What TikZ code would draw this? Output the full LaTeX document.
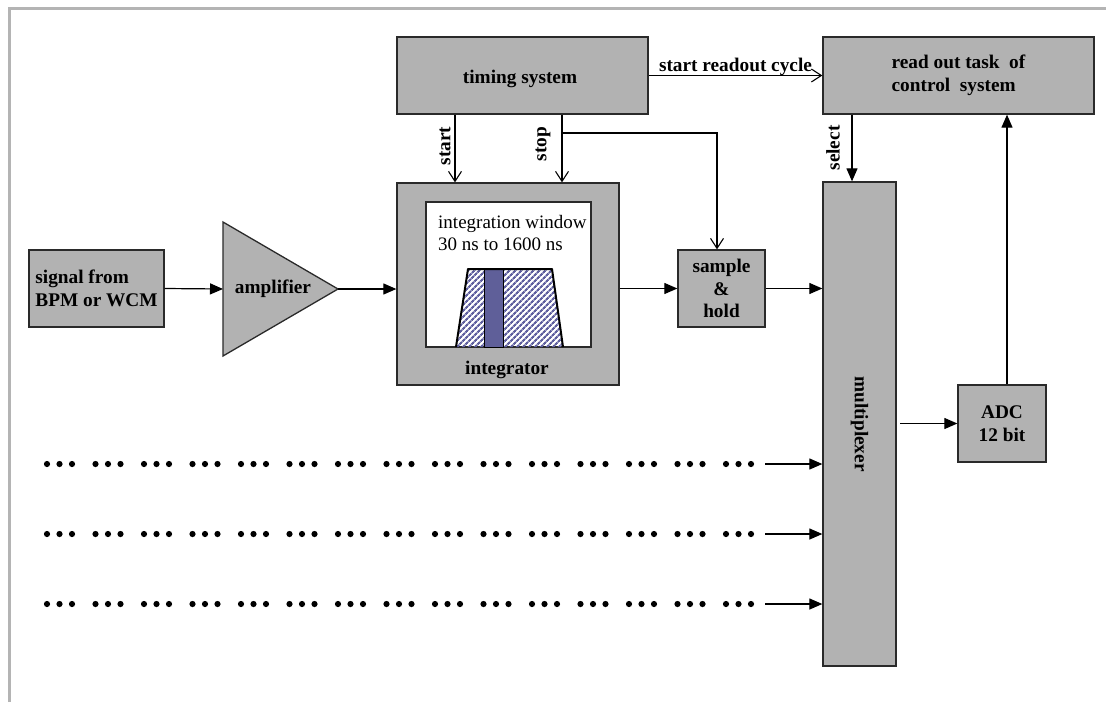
\documentclass[tikz,border=0pt]{standalone}
\usepackage{fontspec}
\setmainfont{Liberation Serif}
\usetikzlibrary{arrows.meta,patterns.meta}
\definecolor{boxgray}{HTML}{B2B2B2}
\definecolor{framegray}{HTML}{B4B4B4}
\definecolor{hatch}{HTML}{5F5F9F}
\definecolor{barblue}{HTML}{5F5F99}
\definecolor{edge}{HTML}{2A2A2A}
\begin{document}
\begin{tikzpicture}[x=1pt,y=-1pt,
  box/.style={draw=edge, line width=1.3pt, fill=boxgray, inner sep=0pt},
  lbl/.style={font=\fontsize{19.3}{22.5}\selectfont\bfseries, inner sep=0pt},
  reg/.style={font=\fontsize{19}{22}\selectfont, inner sep=0pt},
  fa/.style={line width=1.2pt, -{Triangle[length=13pt,width=11pt]}},
  oa/.style={line width=1.1pt, -{Straight Barb[length=10pt,width=13pt]}}
]
\useasboundingbox (0,0) rectangle (1106,702);
% frame
\draw[framegray, line width=3pt] (9,702) -- (9,8) -- (1106,8);

% boxes
\node[box, minimum width=251pt, minimum height=77pt] (timing) at (522.5,75.5) {};
\node[lbl] (timingtxt) at (520,79) {timing system};
\node[box, minimum width=271pt, minimum height=77pt] (readout) at (958.5,75.5) {};
\node[lbl, align=left] (readouttxt) at (readout.center) {read out task~ of\\control~ system};
\node[box, minimum width=135pt, minimum height=77pt] (sig) at (96.5,288.5) {};
\node[lbl, align=left] (sigtxt) at (sig.center) {signal from\\BPM or WCM};
\node[box, minimum width=87pt, minimum height=77pt] (sh) at (721.5,288.5) {};
\node[lbl, align=center] (shtxt) at (sh.center) {sample\\\&\\hold};
\node[box, minimum width=88pt, minimum height=77pt] (adc) at (1002,423.5) {};
\node[lbl, align=center] (adctxt) at (adc.center) {ADC\\12 bit};
\node[box, minimum width=73pt, minimum height=484pt] (mux) at (859.5,424) {};
\node[lbl, rotate=-90] (muxtxt) at (mux.center) {multiplexer};

% amplifier
\coordinate (ampin) at (223,289);
\coordinate (ampout) at (338,289);
\draw[box] (223,222) -- (ampout) -- (223,356) -- cycle;
\node[lbl] (amptxt) at (273,289) {amplifier};

% integrator
\node[box, minimum width=222pt, minimum height=202pt] (integ) at (508,284) {};
\node[draw=edge, line width=1.2pt, fill=white, minimum width=165pt, minimum height=145pt, inner sep=0pt] (inner) at (508.5,274.5) {};
\node[reg, align=left, anchor=west] (iwtxt) at (438,233) {integration window\\30 ns to 1600 ns};
\node[lbl] (integtxt) at (507,370) {integrator};
\path[pattern={Lines[angle=45,distance=4pt,line width=2.2pt]}, pattern color=hatch]
  (456,347) -- (468,269) -- (552,269) -- (563,347) -- cycle;
\fill[barblue] (484,269) rectangle (503,347);
\draw[line width=1pt] (484,269) rectangle (503,347);
\draw[line width=2pt, line join=round] (456,347) -- (468,269) -- (552,269) -- (563,347);

% signal path
\draw[fa] (sig.east) -- (ampin);
\draw[fa] (ampout) -- (ampout -| integ.west);
\draw[fa] (sh.west -| integ.east) -- (sh.west);
\draw[fa] (sh.east) -- (sh.east -| mux.west);

% timing
\draw[oa] (timing.east) -- (readout.west);
\node[lbl, anchor=base] (srctxt) at (735.5,71) {start readout cycle};
\coordinate (startx) at (455,0);
\coordinate (stopx) at (562,0);
\coordinate (stopbr) at (562,133);
\coordinate (stopv) at (717,0);
\draw[oa] (timing.south -| startx) -- (integ.north -| startx);
\draw[oa] (timing.south -| stopx) -- (integ.north -| stopx);
\draw[oa] (stopbr) -| (sh.north -| stopv);
\node[lbl, rotate=90] (starttxt) at (445,146) {start};
\node[lbl, rotate=90] (stoptxt) at (543,144) {stop};

% select, ADC
\coordinate (selx) at (852,0);
\draw[fa] (readout.south -| selx) -- (mux.north -| selx);
\node[lbl, rotate=90] (seltxt) at (833,148) {select};
\coordinate (adcx) at (1007,0);
\draw[fa] (adc.north -| adcx) -- (readout.south -| adcx);
\coordinate (muxout) at (900,423.5);
\draw[fa] (muxout) -- (adc.west);

% dot rows
\foreach \y [count=\i] in {464,534,604} {
  \foreach \g in {0,...,14} {
    \foreach \d in {0,1,2} {
      \fill (47+48.5*\g+12.5*\d,\y) circle (3.1pt);
    }
  }
  \coordinate (row\i) at (765,\y);
  \draw[fa] (row\i) -- (row\i -| mux.west);
}
\end{tikzpicture}
\end{document}
